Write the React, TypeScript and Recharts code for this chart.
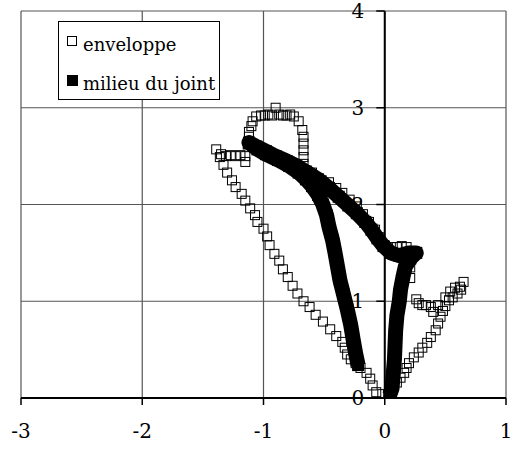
import React from 'react';
import {
  CartesianGrid,
  ReferenceLine,
  Scatter,
  ScatterChart,
  XAxis,
  YAxis,
} from 'recharts';

const X_TICKS = [-3, -2, -1, 0, 1];
const Y_TICKS = [0, 1, 2, 3, 4];

// enveloppe: open squares, read along the loop starting at the origin
const ENV_X = [
  -0.02, -0.07, -0.1, -0.12, -0.15, -0.2, -0.24, -0.28, -0.31, -0.33, -0.35, -0.4, -0.45, -0.51,
  -0.57, -0.62, -0.67, -0.72, -0.76, -0.8, -0.84, -0.87, -0.91, -0.95, -0.97, -1.0, -1.05, -1.07,
  -1.11, -1.15, -1.18, -1.23, -1.26, -1.3, -1.33, -1.36, -1.39, -1.35, -1.31, -1.27, -1.23, -1.19,
  -1.15, -1.15, -1.13, -1.12, -1.12, -1.1, -1.09, -1.06, -1.02, -0.99, -0.96, -0.93, -0.9, -0.87,
  -0.84, -0.81, -0.78, -0.75, -0.71, -0.68, -0.67, -0.67, -0.67, -0.67, -0.67, -0.6, -0.52, -0.46,
  -0.4, -0.35, -0.29, -0.23, -0.18, -0.13, -0.08, -0.04, 0.0, 0.05, 0.1, 0.14, 0.18, 0.22, 0.22,
  0.21, 0.21, 0.26, 0.28, 0.31, 0.34, 0.38, 0.4, 0.44, 0.5, 0.54, 0.58, 0.62, 0.65, 0.63, 0.6,
  0.56, 0.53, 0.5, 0.48, 0.46, 0.44, 0.42, 0.38, 0.35, 0.31, 0.28, 0.24, 0.2, 0.18, 0.16, 0.13,
  0.1, 0.07, 0.05, 0.03,
];
const ENV_Y = [
  0.04, 0.06, 0.13, 0.2, 0.26, 0.31, 0.36, 0.4, 0.45, 0.52, 0.58, 0.64, 0.71, 0.79,
  0.86, 0.94, 1.0, 1.08, 1.16, 1.25, 1.33, 1.42, 1.49, 1.58, 1.67, 1.75, 1.82, 1.89,
  1.96, 2.04, 2.11, 2.18, 2.25, 2.33, 2.41, 2.49, 2.57, 2.52, 2.5, 2.51, 2.5, 2.51,
  2.5, 2.44, 2.62, 2.7, 2.75, 2.81, 2.86, 2.91, 2.92, 2.92, 2.93, 2.92, 3.0, 2.93,
  2.92, 2.92, 2.93, 2.91, 2.86, 2.77, 2.7, 2.63, 2.56, 2.49, 2.42, 2.33, 2.25, 2.23,
  2.17, 2.12, 2.05, 1.98, 1.9, 1.82, 1.74, 1.66, 1.57, 1.56, 1.56, 1.57, 1.56, 1.52, 1.44,
  1.35, 1.24, 1.02, 0.98, 0.96, 0.96, 0.94, 0.89, 0.96, 1.04, 1.1, 1.14, 1.15, 1.2, 1.12, 1.08,
  1.04, 1.01, 0.95, 0.9, 0.84, 0.77, 0.7, 0.63, 0.57, 0.52, 0.47, 0.42, 0.36, 0.31, 0.26, 0.21,
  0.16, 0.11, 0.06, 0.03,
];

// milieu du joint: filled squares, dense enough to form a thick band
const MID_X = [
  0.04, 0.06, 0.07, 0.08, 0.085, 0.09, 0.1, 0.12, 0.13, 0.15, 0.17, 0.21, 0.26,
  0.2, 0.12, 0.05, -0.01, -0.06, -0.11, -0.16, -0.23, -0.3, -0.38, -0.46, -0.55, -0.65,
  -0.73, -0.81, -0.9, -0.98, -1.06, -1.12,
  -1.05, -0.98, -0.88, -0.79, -0.71, -0.65, -0.6, -0.55, -0.51, -0.48, -0.46, -0.43, -0.41,
  -0.39, -0.37, -0.34, -0.31, -0.28, -0.26, -0.24, -0.22,
];
const MID_Y = [
  0.03, 0.1, 0.25, 0.4, 0.55, 0.7, 0.85, 1.0, 1.12, 1.25, 1.36, 1.44, 1.5,
  1.5, 1.47, 1.5, 1.57, 1.65, 1.74, 1.82, 1.91, 1.99, 2.08, 2.17, 2.26, 2.34,
  2.4, 2.45, 2.5, 2.55, 2.6, 2.64,
  2.57, 2.52, 2.46, 2.4, 2.33, 2.26, 2.19, 2.1, 2.0, 1.89, 1.77, 1.63, 1.5,
  1.36, 1.22, 1.07, 0.92, 0.75, 0.6, 0.46, 0.34,
];

const enveloppe = ENV_X.map((x, i) => ({ x, y: ENV_Y[i] }));
const milieu = MID_X.map((x, i) => ({ x, y: MID_Y[i] }));

const FONT = 'DejaVu Serif';
const FS = 20;
const textStyle = { fontFamily: FONT, fontSize: FS };
const legendStyle = { fontFamily: FONT, fontSize: 18 };

const OpenSquare = (props: any) => (
  <rect x={props.cx - 4.5} y={props.cy - 4.5} width={9} height={9} fill="none" stroke="#000" strokeWidth={1} />
);
const FilledSquare = (props: any) => (
  <rect x={props.cx - 6} y={props.cy - 6} width={12} height={12} fill="#000" />
);

const XTick = ({ x, y, payload }: any) => (
  <text x={x} y={y + 33} textAnchor="middle" style={textStyle} fill="#000">
    {payload.value}
  </text>
);

function LegendBox() {
  return (
    <svg width={162} height={80} style={{ position: 'absolute', left: 58, top: 21 }}>
      <rect x={0.5} y={0.5} width={161} height={78} fill="#fff" stroke="#000" strokeWidth={1} />
      <rect x={9.5} y={15.5} width={9} height={9} fill="none" stroke="#000" strokeWidth={1} />
      <text x={25} y={30} style={legendStyle} fill="#000">
        enveloppe
      </text>
      <rect x={9} y={54} width={11} height={11} fill="#000" />
      <text x={25} y={69} style={legendStyle} fill="#000">
        milieu du joint
      </text>
    </svg>
  );
}

export default function App() {
  return (
    <div style={{ position: 'fixed', left: 0, top: 0, width: 512, height: 450, background: '#fff' }}>
      <ScatterChart width={512} height={450} margin={{ top: 11, right: 6, bottom: 0, left: 21 }}>
        <CartesianGrid stroke="#555" strokeWidth={1.2} horizontalValues={Y_TICKS} verticalValues={X_TICKS} />
        <XAxis
          type="number"
          dataKey="x"
          domain={[-3, 1]}
          ticks={X_TICKS}
          height={52}
          axisLine={{ stroke: '#000', strokeWidth: 2 }}
          tickLine={{ stroke: '#000', strokeWidth: 1.5 }}
          tickSize={7}
          tickMargin={0}
          tick={<XTick />}
          allowDataOverflow
        />
        <YAxis type="number" dataKey="y" domain={[0, 4]} ticks={Y_TICKS} hide allowDataOverflow />
        <ReferenceLine x={0} stroke="#000" strokeWidth={2} />
        {Y_TICKS.map((v) => (
          <ReferenceLine
            key={v}
            segment={[{ x: -0.07, y: v }, { x: 0, y: v }]}
            stroke="#000"
            strokeWidth={1.5}
            ifOverflow="visible"
            label={{ value: String(v), position: 'left', offset: 12, fill: '#000', style: textStyle }}
          />
        ))}
        <Scatter name="enveloppe" data={enveloppe} shape={<OpenSquare />} isAnimationActive={false} />
        <Scatter
          name="milieu du joint"
          data={milieu}
          fill="#000"
          shape={<FilledSquare />}
          line={{ stroke: '#000', strokeWidth: 15, strokeLinejoin: 'round' }}
          isAnimationActive={false}
        />
      </ScatterChart>
      <LegendBox />
    </div>
  );
}
